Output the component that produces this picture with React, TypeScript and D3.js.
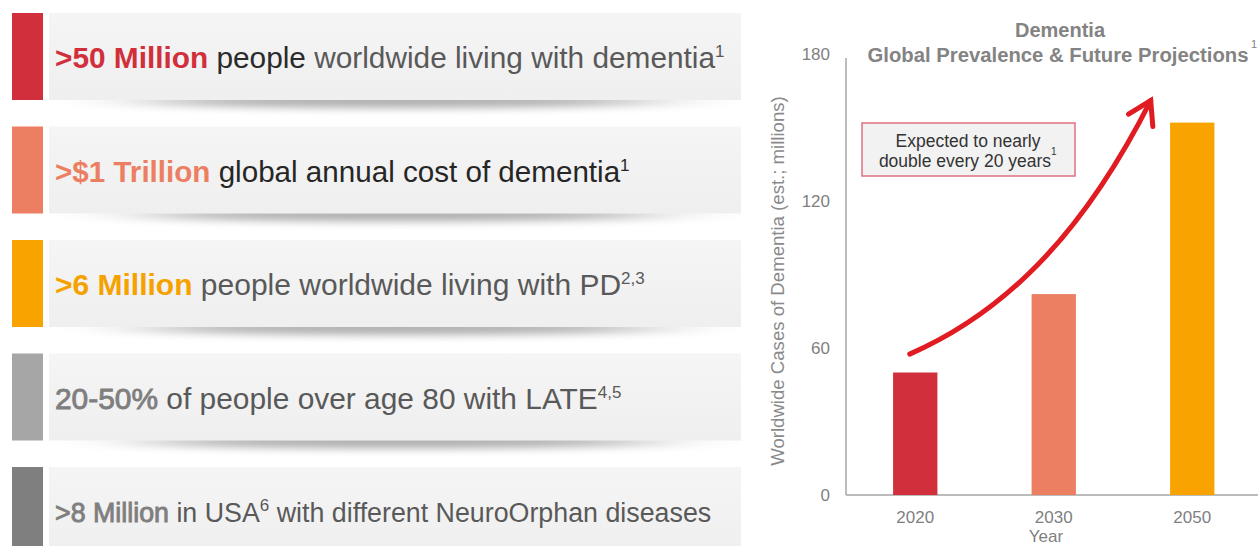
import React from 'react';
import * as d3 from 'd3';

// ---- Data ----
const years = ['2020', '2030', '2050'];
const cases = [50, 82, 152];
const barColors = ['#d12f3b', '#ec7f62', '#f9a300'];
const yTicks = [0, 60, 120, 180];

const statBold = ['>50 Million', '>$1 Trillion', '>6 Million', '20-50%', '>8 Million'];
const statRest = [
  [{ t: ' people', c: '#2b2b2b' }, { t: ' worldwide living with dementia', c: '#595959' }, { t: '1', c: '#595959', sup: true }],
  [{ t: ' global annual cost of dementia', c: '#262626' }, { t: '1', c: '#262626', sup: true }],
  [{ t: ' people worldwide living with PD', c: '#595959' }, { t: '2,3', c: '#595959', sup: true }],
  [{ t: ' of people over age 80 with LATE', c: '#595959' }, { t: '4,5', c: '#595959', sup: true }],
  [{ t: ' in USA', c: '#595959' }, { t: '6', c: '#595959', sup: true }, { t: ' with different NeuroOrphan diseases', c: '#595959', after: true }],
];
const statColors = ['#d12f3b', '#ec7f62', '#f9a300', '#a6a6a6', '#7f7f7f'];
const statTextColors = ['#d12f3b', '#ec7f62', '#f5a200', '#7f7f7f', '#7f7f7f'];
const statHeavy = [true, true, true, false, false];
const statSize = [29.8, 29.6, 30, 29.9, 26.8];

// growth arrow in data space: [category position (0 = 2020), value]
const arrowCtrl: [number, number][] = [[-0.04, 57.5], [0.61, 73.5], [1.19, 104], [1.7, 161]];

const W = 1258, H = 546;

export default function App() {
  const y = d3.scaleLinear().domain([0, 180]).range([495, 54]);
  const x = d3.scaleBand().domain(years).range([846, 1261.5]).paddingInner(0.68).paddingOuter(0.34);
  const step = x.step();
  const c0 = (x('2020') as number) + x.bandwidth() / 2;
  const ax = (p: number) => c0 + p * step;
  const P = arrowCtrl.map(([p, v]) => [ax(p), y(v)]);
  const path = d3.path();
  path.moveTo(P[0][0], P[0][1]);
  path.bezierCurveTo(P[1][0], P[1][1], P[2][0], P[2][1], P[3][0], P[3][1]);

  const rowY = d3.scaleLinear().domain([0, 1]).range([13, 126.5]);
  const rowH = 87;
  const font = "'Liberation Sans', Arial, sans-serif";

  // arrowhead
  const tip = P[3];
  const ang = Math.atan2(P[3][1] - P[2][1], P[3][0] - P[2][0]);
  const hl = 26;
  const b1 = [tip[0] - hl * Math.cos(ang - 0.55), tip[1] - hl * Math.sin(ang - 0.55)];
  const b2 = [tip[0] - hl * Math.cos(ang + 0.55), tip[1] - hl * Math.sin(ang + 0.55)];

  return (
    <svg width={W} height={H} style={{ position: 'absolute', left: 0, top: 0, background: '#fff' }} fontFamily={font}>
      <defs>
        <filter id="blur" x="-30%" y="-300%" width="160%" height="700%">
          <feGaussianBlur stdDeviation="50 4" />
        </filter>
        <linearGradient id="panel" x1="0" x2="0" y1="0" y2="1">
          <stop offset="0" stopColor="#f5f5f5" />
          <stop offset="1" stopColor="#efefef" />
        </linearGradient>
      </defs>
      {/* Left stat panels */}
      {statBold.map((b, i) => {
        const top = rowY(i);
        return (
          <g key={i}>
            <ellipse cx={400} cy={top + rowH + 1} rx={260} ry={7} fill="#000" opacity={0.32} filter="url(#blur)" />
            <rect x={12} y={top} width={31} height={rowH} fill={statColors[i]} />
            <rect x={49} y={top} width={692} height={rowH} fill="url(#panel)" />
            <text x={55} y={top + 55} fontSize={statSize[i]} fill={statTextColors[i]}>
              <tspan fontWeight={statHeavy[i] ? 'bold' : 'normal'} stroke={statHeavy[i] ? 'none' : statTextColors[i]} strokeWidth={0.9}>{b}</tspan>
              {statRest[i].map((s: any, j) =>
                s.sup ? (
                  <tspan key={j} fill={s.c} fontSize={17} dy={-11}>{s.t}</tspan>
                ) : (
                  <tspan key={j} fill={s.c} dy={s.after ? 11 : 0}>{s.t}</tspan>
                )
              )}
            </text>
          </g>
        );
      })}

      {/* Chart title */}
      <text x={1060} y={37} textAnchor="middle" fontSize={20} fontWeight="bold" fill="#838383">Dementia</text>
      <text x={1058} y={62} textAnchor="middle" fontSize={20.3} fontWeight="bold" fill="#838383">Global Prevalence &amp; Future Projections</text>
      <text x={1251} y={48} fontSize={11} fill="#838383">1</text>

      {/* Axes */}
      <line x1={846} x2={846} y1={y(180) + 4} y2={y(0)} stroke="#a6a6a6" strokeWidth={1.5} />
      <line x1={846} x2={1258} y1={y(0)} y2={y(0)} stroke="#a6a6a6" strokeWidth={1.5} />
      {yTicks.map((t) => (
        <text key={t} x={830} y={y(t) + 6} textAnchor="end" fontSize={17} fill="#7f7f7f">{t}</text>
      ))}
      <text transform={`translate(784, 281) rotate(-90)`} textAnchor="middle" fontSize={18.6} fill="#8a8a8a">
        Worldwide Cases of Dementia (est.; millions)
      </text>

      {/* Bars */}
      {years.map((yr, i) => (
        <rect key={yr} x={x(yr)} y={y(cases[i])} width={x.bandwidth()} height={y(0) - y(cases[i])} fill={barColors[i]} />
      ))}
      {years.map((yr) => (
        <text key={yr} x={(x(yr) as number) + x.bandwidth() / 2} y={523} textAnchor="middle" fontSize={17} fill="#7f7f7f">{yr}</text>
      ))}
      <text x={1046} y={542} textAnchor="middle" fontSize={17} fill="#7f7f7f">Year</text>

      {/* Annotation */}
      <rect x={862} y={123} width={213} height={53} fill="#f2f2f2" stroke="#e0707e" strokeWidth={1.5} />
      <text x={968} y={147} textAnchor="middle" fontSize={17.5} fill="#333">Expected to nearly</text>
      <text x={965} y={167} textAnchor="middle" fontSize={17.5} fill="#333">double every 20 years</text>
      <text x={1051} y={155} fontSize={10} fill="#333">1</text>

      {/* Growth arrow */}
      <path d={path.toString()} fill="none" stroke="#e11b22" strokeWidth={5} strokeLinecap="round" />
      <polyline points={`${b1[0]},${b1[1]} ${tip[0]},${tip[1]} ${b2[0]},${b2[1]}`} fill="none" stroke="#e11b22" strokeWidth={5} strokeLinecap="round" strokeLinejoin="miter" />
    </svg>
  );
}
